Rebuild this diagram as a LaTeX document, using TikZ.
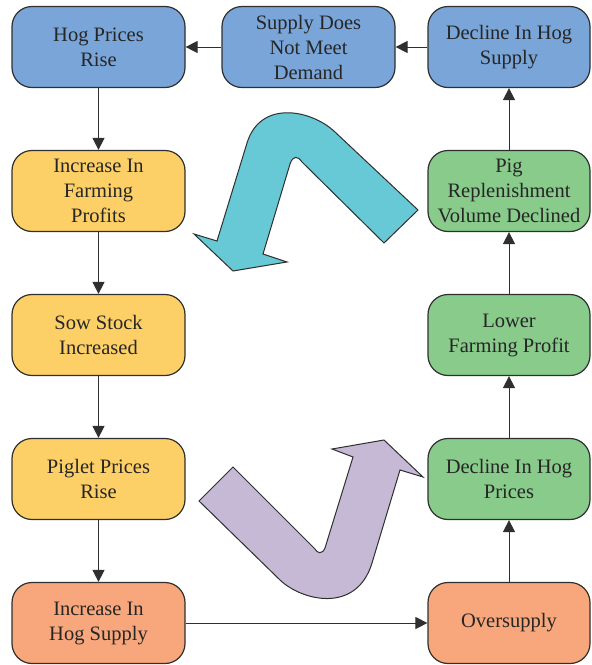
\documentclass[tikz,border=0pt]{standalone}
\usepackage{fontspec}
\setmainfont{Liberation Serif}
\usetikzlibrary{arrows.meta}
\definecolor{cblue}{HTML}{79A5D8}
\definecolor{cyel}{HTML}{FDD067}
\definecolor{cgreen}{HTML}{88CB8B}
\definecolor{corange}{HTML}{F7A77B}
\definecolor{ccyan}{HTML}{67C9D5}
\definecolor{clav}{HTML}{C5B9D5}
\definecolor{cline}{HTML}{2F2F2F}
\tikzset{
  box/.style={draw=cline, line width=1.2pt, rounded corners=20pt, minimum width=173pt,
    minimum height=81pt, inner sep=0pt, align=center, text=black!85,
    font=\fontsize{20.5}{25}\selectfont},
  rbox/.style={box, minimum width=162pt},
  conn/.style={draw=cline, line width=1pt, -{Triangle[length=12pt,width=12pt]}},
  bigarrow/.style={draw=cline, line width=1pt, line join=miter}
}
\begin{document}
\begin{tikzpicture}[x=1pt,y=-1pt]
\useasboundingbox (0,0) rectangle (592,665);
% left column
\node[box, fill=cblue] (hpr) at (98.5,47) {Hog Prices\\Rise};
\node[box, fill=cyel] (ifp) at (98.5,191) {Increase In\\Farming\\Profits};
\node[box, fill=cyel] (ssi) at (98.5,335) {Sow Stock\\Increased};
\node[box, fill=cyel] (ppr) at (98.5,479) {Piglet Prices\\Rise};
\node[box, fill=corange] (ihs) at (98.5,623) {Increase In\\Hog Supply};
% middle top
\node[box, fill=cblue] (sdn) at (308.5,47) {Supply Does\\Not Meet\\Demand};
% right column
\node[rbox, fill=cblue] (dhs) at (509,47) {Decline In Hog\\Supply};
\node[rbox, fill=cgreen] (prv) at (509,191) {Pig\\Replenishment\\Volume Declined};
\node[rbox, fill=cgreen] (lfp) at (509,335) {Lower\\Farming Profit};
\node[rbox, fill=cgreen] (dhp) at (509,479) {Decline In Hog\\Prices};
\node[rbox, fill=corange] (ovs) at (509,623) {Oversupply};
% connectors
\draw[conn] (sdn) -- (hpr);
\draw[conn] (dhs) -- (sdn);
\draw[conn] (hpr) -- (ifp);
\draw[conn] (ifp) -- (ssi);
\draw[conn] (ssi) -- (ppr);
\draw[conn] (ppr) -- (ihs);
\draw[conn] (ihs) -- (ovs);
\draw[conn] (ovs) -- (dhp);
\draw[conn] (dhp) -- (lfp);
\draw[conn] (lfp) -- (prv);
\draw[conn] (prv) -- (dhs);
% cyan curved arrow
\draw[bigarrow, fill=ccyan]
  (418,210) -- (335,132)
  .. controls (312,110) and (260.5,99) .. (247,143)
  -- (217,241) -- (194,234) -- (233,271) -- (287,262) -- (263,254)
  -- (290,164) .. controls (293,155) and (298,156) .. (302,162)
  -- (384,243) -- cycle;
% lavender curved arrow
\draw[bigarrow, fill=clav]
  (199,501) -- (280,580)
  .. controls (302,601) and (356.6,614) .. (372,563)
  -- (400,470) -- (423,477) -- (384,440) -- (332,449) -- (353,457)
  -- (325,548) .. controls (322,555) and (317,553) .. (315,549)
  -- (233,467) -- cycle;
\end{tikzpicture}
\end{document}
